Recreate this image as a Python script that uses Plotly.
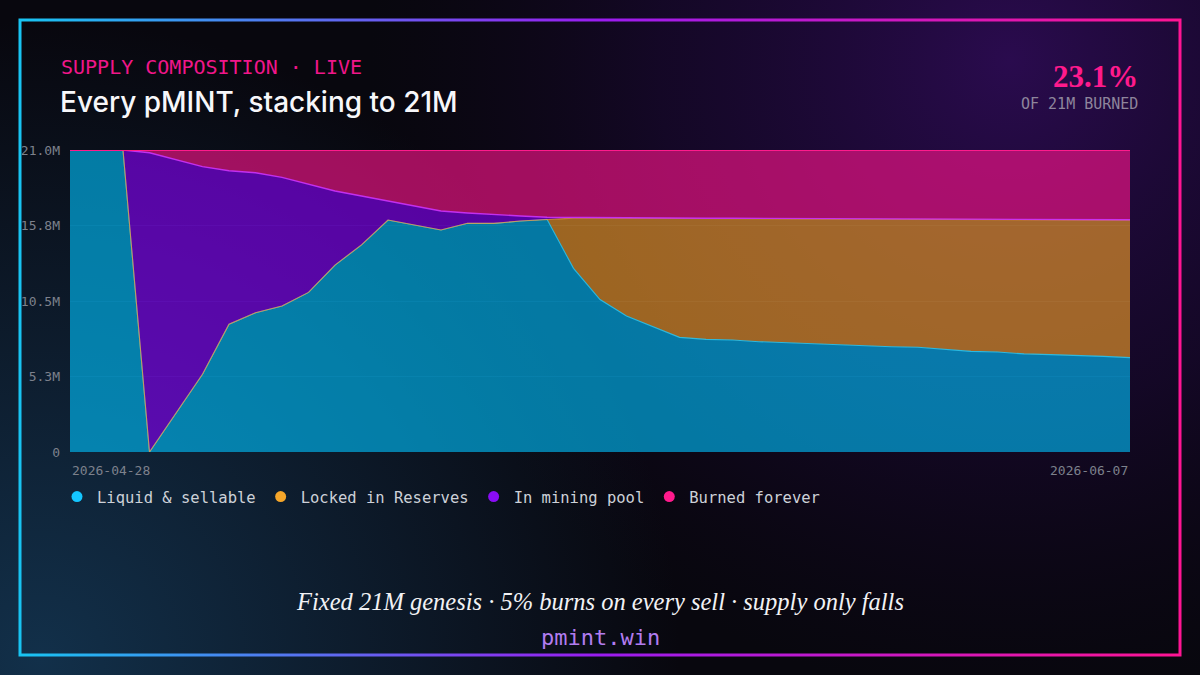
import base64
import pandas as pd
import plotly.graph_objects as go

# x axis end labels, one point per day in between
x_labels = ["2026-04-28", "2026-06-07"]
dates = pd.date_range(x_labels[0], x_labels[1], freq="D")

# supply split in millions of pMINT
liquid = [21.0, 21.0, 21.0, 0.0, 2.7, 5.4, 8.88, 9.69, 10.15, 11.1, 13.0,
          14.4, 16.13, 15.78, 15.44, 15.9, 15.9, 16.06, 16.18, 12.77, 10.6,
          9.46, 8.72, 7.97, 7.83, 7.79, 7.67, 7.60, 7.49, 7.44, 7.39,
          7.32, 7.28, 7.16, 7.00, 6.95, 6.82, 6.77, 6.72, 6.65, 6.56]
locked = [0, 0, 0, 0, 0, 0, 0, 0, 0, 0, 0,
          0, 0, 0, 0, 0, 0, 0, 0, 3.49, 5.65,
          6.79, 7.52, 8.26, 8.39, 8.43, 8.54, 8.60, 8.71, 8.76, 8.80,
          8.87, 8.90, 9.01, 9.17, 9.21, 9.33, 9.38, 9.42, 9.49, 9.57]
mining = [0, 0, 0, 20.81, 17.65, 14.44, 10.68, 9.73, 8.95, 7.51, 5.15,
          3.40, 1.32, 1.32, 1.32, 0.72, 0.60, 0.35, 0.14, 0.04, 0.04,
          0.03, 0.03, 0.03, 0.03, 0.03, 0.03, 0.03, 0.03, 0.02, 0.02,
          0.02, 0.02, 0.02, 0.02, 0.02, 0.02, 0.02, 0.02, 0.02, 0.02]
burned = [0, 0, 0, 0.19, 0.65, 1.16, 1.44, 1.58, 1.90, 2.39, 2.85,
          3.20, 3.55, 3.90, 4.24, 4.38, 4.50, 4.59, 4.68, 4.70, 4.71,
          4.72, 4.73, 4.74, 4.75, 4.75, 4.76, 4.77, 4.77, 4.78, 4.79,
          4.79, 4.80, 4.81, 4.81, 4.82, 4.83, 4.83, 4.84, 4.84, 4.85]

GENESIS = 21.0
y_ticks = [0, 5.25, 10.5, 15.75, 21.0]
y_tick_text = ["0", "5.3M", "10.5M", "15.8M", "21.0M"]

# name, values, line colour, fill, line width
series = [
    ("Liquid & sellable", liquid, "rgba(40,200,245,0.85)", "rgba(0,190,250,0.62)", 1.1),
    ("Locked in Reserves", locked, "rgba(245,166,42,0.70)", "rgba(245,160,40,0.62)", 1.1),
    ("In mining pool", mining, "rgba(200,50,245,0.95)", "rgba(135,0,250,0.62)", 1.4),
    ("Burned forever", burned, "rgba(255,26,140,1)", "rgba(255,20,140,0.62)", 1.8),
]
dot_colors = ["#14c6ff", "#f5a62a", "#8a0cf5", "#ff1a8c"]

MONO = "DejaVu Sans Mono"
SERIF = "Liberation Serif"
SANS = "Inter"

W, H = 1200, 675
L, R, T, B = 70, 70, 150, 223


def px(x):
    return (x - L) / (W - L - R)


def py(y):
    return (H - B - y) / (H - T - B)


# background glow + gradient frame as an svg image
svg = """<svg xmlns="http://www.w3.org/2000/svg" width="1200" height="675" viewBox="0 0 1200 675">
<defs>
<radialGradient id="gp" cx="1010" cy="60" r="640" gradientUnits="userSpaceOnUse">
<stop offset="0" stop-color="#2a0b4e" stop-opacity="1"/>
<stop offset="0.55" stop-color="#1c0836" stop-opacity="0.6"/>
<stop offset="1" stop-color="#12061f" stop-opacity="0"/>
</radialGradient>
<radialGradient id="gt" cx="40" cy="660" r="640" gradientUnits="userSpaceOnUse">
<stop offset="0" stop-color="#12304a" stop-opacity="1"/>
<stop offset="1" stop-color="#12304a" stop-opacity="0"/>
</radialGradient>
<linearGradient id="fr" x1="20" y1="0" x2="1180" y2="0" gradientUnits="userSpaceOnUse">
<stop offset="0" stop-color="#18c4f2"/>
<stop offset="0.5" stop-color="#9a1cf0"/>
<stop offset="1" stop-color="#ff1493"/>
</linearGradient>
</defs>
<rect width="1200" height="675" fill="#08070e"/>
<rect width="1200" height="675" fill="url(#gp)"/>
<rect width="1200" height="675" fill="url(#gt)"/>
<rect x="20" y="20" width="1160" height="635" fill="none" stroke="url(#fr)" stroke-width="3"/>
</svg>"""
bg_src = "data:image/svg+xml;base64," + base64.b64encode(svg.encode()).decode()

fig = go.Figure()

# stacked areas
for name, vals, color, fill, lw in series:
    fig.add_trace(go.Scatter(
        x=dates, y=vals, name=name, mode="lines",
        stackgroup="supply", fillcolor=fill,
        line=dict(color=color, width=lw),
        showlegend=False, hoverinfo="skip",
    ))

# dot markers for the legend
for (name, *_), dc in zip(series, dot_colors):
    fig.add_trace(go.Scatter(
        x=[None], y=[None], name=name, mode="markers",
        marker=dict(size=11, color=dc), showlegend=True,
    ))

burned_pct = burned[-1] / GENESIS * 100

annotations = [
    dict(x=px(59), y=py(67), text="SUPPLY COMPOSITION · LIVE",
         font=dict(family=MONO, size=20, color="#f0168a"), xanchor="left"),
    dict(x=px(58), y=py(102), text="Every pMINT, stacking to 21M",
         font=dict(family=SANS, size=28, weight=500, color="#f7f7fa"), xanchor="left"),
    dict(x=px(1140), y=py(76), text="<b>%.1f%%</b>" % burned_pct,
         font=dict(family=SERIF, size=31, color="#ff1a8c"), xanchor="right"),
    dict(x=px(1140), y=py(104), text="OF 21M BURNED",
         font=dict(family=MONO, size=15, color="#8e859c"), xanchor="right"),
    dict(x=px(600), y=py(601),
         text="<i>Fixed 21M genesis · 5% burns on every sell · supply only falls</i>",
         font=dict(family=SERIF, size=24.5, color="#f2f2f5"), xanchor="center"),
    dict(x=px(600), y=py(637), text="pmint.win",
         font=dict(family=MONO, size=22, color="#b27cf0"), xanchor="center"),
]
for a in annotations:
    a.update(xref="paper", yref="paper", showarrow=False, yanchor="middle")

# first / last date under the x axis
for lbl, anchor in zip(x_labels, ["left", "right"]):
    annotations.append(dict(
        x=lbl, xref="x", y=py(470), yref="paper", text=lbl, showarrow=False,
        xanchor=anchor, yanchor="middle",
        font=dict(family=MONO, size=13, color="#7d818c"),
    ))

fig.update_layout(
    width=W, height=H,
    margin=dict(l=L, r=R, t=T, b=B, autoexpand=False),
    paper_bgcolor="#08070e",
    plot_bgcolor="rgba(0,0,0,0)",
    images=[dict(source=bg_src, xref="paper", yref="paper",
                 x=px(0), y=py(0), sizex=W / (W - L - R), sizey=H / (H - T - B),
                 xanchor="left", yanchor="top", sizing="stretch", layer="below")],
    xaxis=dict(range=[dates[0], dates[-1]], showgrid=False, zeroline=False,
               showline=False, showticklabels=False, fixedrange=True),
    yaxis=dict(range=[0, GENESIS], tickvals=y_ticks, ticktext=y_tick_text,
               gridcolor="rgba(120,170,230,0.10)", gridwidth=1,
               zeroline=False, showline=False, ticklabelstandoff=9,
               tickfont=dict(family=MONO, size=13, color="#7d818c"),
               fixedrange=True),
    legend=dict(orientation="h", x=px(57), xanchor="left", y=py(480), yanchor="top",
                font=dict(family=MONO, size=15.5, color="#cdd1d8"),
                bgcolor="rgba(0,0,0,0)", itemwidth=30, traceorder="normal"),
    annotations=annotations,
    hovermode=False,
)

# drop the default page margin so the figure sits at 0,0
fig.write_html("out.html", config={"displayModeBar": False},
               post_script="document.body.style.margin='0';"
               "document.body.style.background='#08070e';")
